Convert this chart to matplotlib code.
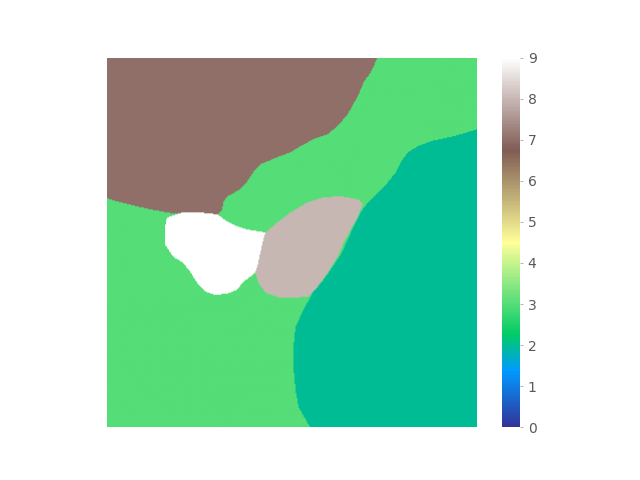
import numpy as np
from matplotlib import pyplot as plt
from matplotlib.path import Path

# label image size (pixels) and background label
size = 369
background = 3

# region outlines as (column, row) in image pixels, with their label
brown_label = 7
brown = [(0, 0), (270, 0), (263, 15), (256, 25), (250, 39), (240, 57), (230, 69),
         (220, 77), (206, 82), (193, 89), (183, 95), (170, 100), (153, 107),
         (146, 115), (140, 124), (133, 132), (120, 139), (116, 145), (115, 152),
         (110, 157), (88, 156), (66, 156), (43, 152), (26, 148), (10, 144), (0, 141)]

teal_label = 2
teal = [(370, 72), (346, 79), (323, 84), (310, 89), (300, 95), (293, 105),
        (288, 115), (280, 125), (270, 135), (260, 145), (253, 155), (246, 169),
        (240, 182), (233, 197), (223, 212), (216, 222), (205, 235), (196, 252),
        (188, 269), (186, 289), (186, 309), (188, 332), (191, 349), (203, 370),
        (370, 370)]

white_label = 9
white = [(60, 160), (76, 155), (93, 155), (110, 157), (120, 164), (130, 169),
         (140, 172), (158, 175), (156, 185), (153, 199), (150, 212), (143, 219),
         (135, 225), (130, 232), (120, 236), (108, 237), (98, 234), (90, 225),
         (83, 214), (76, 205), (66, 199), (58, 187), (58, 169)]

pink_label = 8
pink = [(158, 175), (170, 165), (183, 155), (200, 145), (216, 140), (233, 139),
        (250, 142), (255, 147), (250, 159), (243, 172), (236, 185), (230, 199),
        (220, 215), (210, 229), (200, 239), (186, 240), (173, 240), (158, 235),
        (151, 225), (148, 215), (150, 209), (153, 195), (156, 182)]

regions = [(brown, brown_label), (teal, teal_label),
           (white, white_label), (pink, pink_label)]

# rasterise the outlines into a label image
cols, rows = np.meshgrid(np.arange(size) + 0.5, np.arange(size) + 0.5)
pts = np.column_stack([cols.ravel(), rows.ravel()])
labels = np.full(size * size, background, dtype=float)
for outline, lab in regions:
    inside = Path(outline).contains_points(pts)
    labels[inside] = lab
labels = labels.reshape(size, size)

fig = plt.figure(figsize=(6.4, 4.8), dpi=100)
im = plt.imshow(labels, cmap='terrain', vmin=0, vmax=9)
plt.axis('off')
cb = plt.colorbar()
cb.outline.set_visible(False)
cb.set_ticks(range(10))
cb.ax.tick_params(length=2, width=0.5, color='0.6', labelcolor='0.35', labelsize=10)

plt.savefig('out.png')
